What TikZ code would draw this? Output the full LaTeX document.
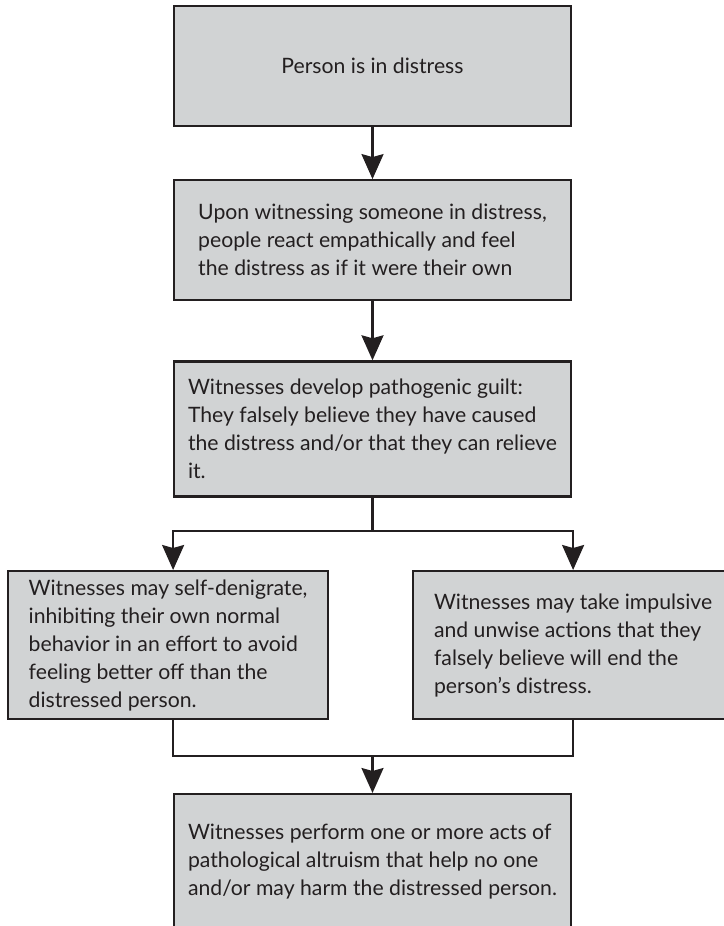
\documentclass[tikz,border=0pt]{standalone}
\usepackage{fontspec}
\setmainfont{Lato}
\usepackage{xcolor}
\usetikzlibrary{positioning,arrows.meta}
\definecolor{boxgray}{RGB}{209,211,212}
\definecolor{ink}{RGB}{35,31,32}

\begin{document}
\begin{tikzpicture}[font=\fontsize{10.6}{14}\selectfont,
  every node/.style={text=ink},
  box/.style={draw=ink, line width=1.1pt, fill=boxgray, minimum width=198.5pt, align=left, inner sep=0pt},
  sidebox/.style={box, minimum width=160pt, minimum height=74pt},
  flow/.style={draw=ink, line width=1.1pt, -{Stealth[length=12.5pt,width=11pt,inset=1.5pt]}},
  link/.style={draw=ink, line width=1.1pt}]
  \useasboundingbox (0,0) rectangle (361.5pt,-463pt);
  \node[box, minimum height=60pt, align=center] (distress) at (186.25pt,-33pt) {Person is in distress};
  \node[box, minimum height=60pt, below=26pt of distress] (empathy)
    {Upon witnessing someone in distress,\\people react empathically and feel\\the distress as if it were their own};
  \node[box, minimum height=67.5pt, below=29.5pt of empathy] (guilt)
    {Witnesses develop pathogenic guilt:\\They falsely believe they have caused\\the distress and/or that they can relieve\\it.};
  \node[sidebox, anchor=north west] (selfdenigrate) at (3.5pt,-285pt)
    {Witnesses may self-denigrate,\\inhibiting their own normal\\behavior in an effort to avoid\\feeling better off than the\\distressed person.};
  \node[sidebox, anchor=north west] (impulsive) at (206pt,-285pt)
    {Witnesses may take impulsive\\and unwise actions that they\\falsely believe will end the\\person’s distress.};
  \node[box, minimum height=67.5pt, anchor=north] (altruism) at (186.25pt,-396.5pt)
    {Witnesses perform one or more acts of\\pathological altruism that help no one\\and/or may harm the distressed person.};
  \coordinate (split) at (186.25pt,-265.5pt);
  \coordinate (merge) at (186.25pt,-378pt);
  \draw[flow] (distress) -- (empathy);
  \draw[flow] (empathy) -- (guilt);
  \draw[flow] (guilt) -- (split) -| ([xshift=2.5pt]selfdenigrate.north);
  \draw[flow] (split) -| (impulsive.north);
  \draw[link] ([xshift=2.5pt]selfdenigrate.south) |- (merge) -| (impulsive.south);
  \draw[flow] (merge) -- (altruism);
\end{tikzpicture}
\end{document}
